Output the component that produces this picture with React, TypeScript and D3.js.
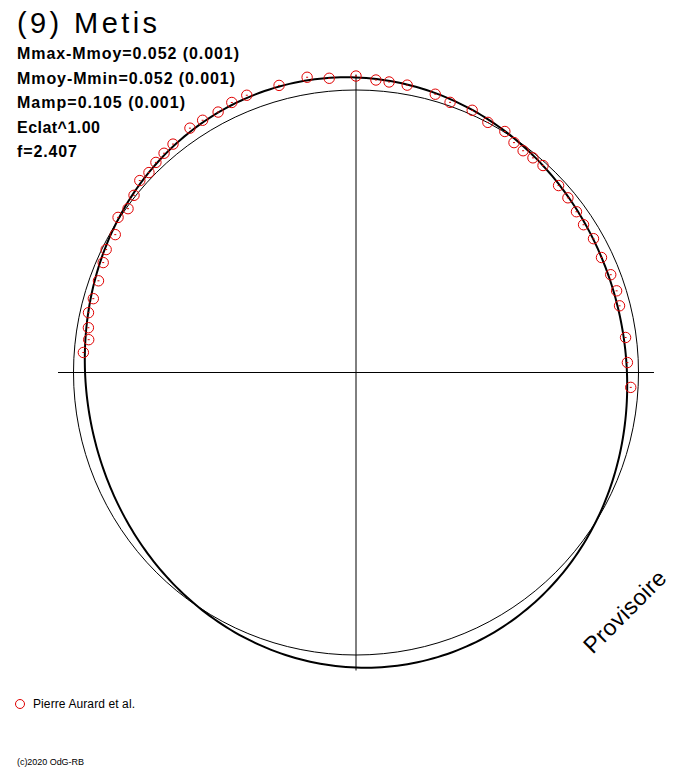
import React from "react";
import * as d3 from "d3";

// ---- Data ----
const title = "(9) Metis";
const statLines = [
  "Mmax-Mmoy=0.052 (0.001)",
  "Mmoy-Mmin=0.052 (0.001)",
  "Mamp=0.105 (0.001)",
  "Eclat^1.00",
  "f=2.407",
];
const statWidths = [222, 218, 168, 83, 60];
const legendLabel = "Pierre Aurard et al.";
const copyright = "(c)2020 OdG-RB";
const watermark = "Provisoire";

// observed points: polar angle (deg, counter-clockwise from +x) and brightness deviation (mag)
const obsAngle = [
  -3.1, 2.1, 7.4, 14.2, 17.4, 21.0, 25.1, 29.4, 33.0, 36.1, 39.5, 42.7, 47.9, 50.5, 53.0, 55.5,
  58.3, 62.2, 66.1, 70.8, 74.1, 79.9, 83.5, 86.1, 90.0, 95.2, 99.4, 105.0, 111.5, 114.7, 117.9,
  121.3, 124.2, 128.7, 131.2, 133.6, 136.0, 138.4, 141.4, 144.3, 146.9, 150.2, 153.8, 156.5,
  160.4, 164.3, 167.4, 170.5, 173.0, 175.8,
];
const obsDmag = [
  -0.029, -0.043, -0.042, -0.042, -0.037, -0.038, -0.045, -0.039, -0.044, -0.038, -0.031, -0.027,
  -0.014, -0.017, -0.019, -0.014, 0.003, 0.001, 0.017, 0.014, 0.027, 0.037, 0.039, 0.042, 0.055,
  0.051, 0.066, 0.058, 0.061, 0.058, 0.048, 0.05, 0.051, 0.04, 0.035, 0.03, 0.021, 0.026, 0.006,
  -0.007, 0.006, -0.02, -0.016, -0.027, -0.036, -0.038, -0.033, -0.044, -0.052, -0.036,
];

// Fourier fit of the light curve (mag)
const fitA0 = 0.002;
const fitA2 = 0.052;
const fitPhase2 = 102; // deg
const axisExtent = 0.061; // mag beyond mean for axis lines

export default function App() {
  const W = 688;
  const H = 768;
  const cx = 356;
  const cy = 372.5;
  const r = d3.scaleLinear().domain([0, 0.052]).range([282.5, 295.7]);

  const toXY = (deg: number, dm: number): [number, number] => {
    const a = (deg * Math.PI) / 180;
    const rad = r(dm);
    return [cx + rad * Math.cos(a), cy - rad * Math.sin(a)];
  };

  const fitAngles = d3.range(0, 360, 1);
  const fitLine = d3
    .lineRadial<number>()
    .angle((d) => ((90 - d) * Math.PI) / 180)
    .radius((d) => r(fitA0 + fitA2 * Math.cos((2 * (d - fitPhase2) * Math.PI) / 180)))
    .curve(d3.curveLinearClosed);

  const axR = r(axisExtent);
  const refR = r(0);

  return (
    <svg width={W} height={H} style={{ position: "absolute", left: 0, top: 0, background: "#fff" }}>
      <rect x={0} y={0} width={W} height={H} fill="#fff" />
      <g fontFamily="'Liberation Sans', Arial, sans-serif" fill="#000">
        <text x={17} y={33} fontSize={29} textLength={140} lengthAdjust="spacing">
          {title}
        </text>
        {statLines.map((s, i) => (
          <text
            key={i}
            x={17}
            y={59 + i * 24.6}
            fontSize={16}
            fontWeight="bold"
            textLength={statWidths[i]}
            lengthAdjust="spacing"
          >
            {s}
          </text>
        ))}
      </g>
      {/* axes */}
      <line x1={cx - axR} x2={cx + axR} y1={cy} y2={cy} stroke="#000" strokeWidth={1} />
      <line x1={cx} x2={cx} y1={cy - axR} y2={cy + axR} stroke="#000" strokeWidth={1} />
      {/* reference circle */}
      <circle cx={cx} cy={cy} r={refR} fill="none" stroke="#000" strokeWidth={1} />
      {/* fit curve */}
      <path
        d={fitLine(fitAngles) || ""}
        transform={`translate(${cx},${cy})`}
        fill="none"
        stroke="#000"
        strokeWidth={2}
      />
      {/* observations */}
      {obsAngle.map((a, i) => {
        const [x, y] = toXY(a, obsDmag[i]);
        return (
          <g key={i}>
            <circle cx={x} cy={y} r={5.2} fill="none" stroke="#e00000" strokeWidth={1} />
            <line x1={x - 1} x2={x + 1} y1={y} y2={y} stroke="#e00000" strokeWidth={1} />
          </g>
        );
      })}
      {/* watermark */}
      <text
        x={0}
        y={0}
        transform="translate(626,613) rotate(-45)"
        textAnchor="middle"
        dominantBaseline="middle"
        fontFamily="'Liberation Sans', Arial, sans-serif"
        fontSize={23}
        textLength={106}
        lengthAdjust="spacing"
      >
        {watermark}
      </text>
      {/* legend */}
      <circle cx={20} cy={704} r={4.5} fill="none" stroke="#e00000" strokeWidth={1} />
      <text x={33} y={708} fontFamily="'Liberation Sans', Arial, sans-serif" fontSize={12} textLength={102} lengthAdjust="spacing">
        {legendLabel}
      </text>
      <text x={17} y={765} fontFamily="'Liberation Sans', Arial, sans-serif" fontSize={9} textLength={67} lengthAdjust="spacing">
        {copyright}
      </text>
    </svg>
  );
}
